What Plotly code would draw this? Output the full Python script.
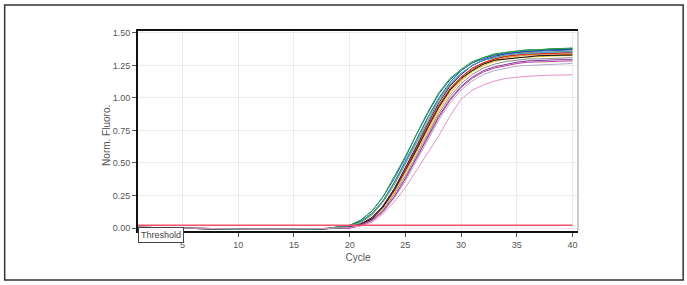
import plotly.graph_objects as go

cycles = list(range(1, 41))

# baseline portions (cycles 1-18)
base_a = [0.004, 0.002, 0.0, -0.002, -0.004, -0.006, -0.007, -0.008, -0.009, -0.010, -0.011, -0.011, -0.012, -0.012, -0.011, -0.010, -0.008, -0.005]
base_b = [0.006, 0.004, 0.002, 0.0, -0.002, -0.004, -0.005, -0.006, -0.007, -0.008, -0.009, -0.009, -0.009, -0.009, -0.008, -0.007, -0.005, -0.003]

# amplification portions (cycles 19-40)
rise_green    = [0.01, 0.02, 0.06, 0.13, 0.24, 0.39, 0.55, 0.72, 0.89, 1.04, 1.15, 1.22, 1.28, 1.31, 1.34, 1.35, 1.36, 1.37, 1.37, 1.38, 1.38, 1.385]
rise_teal     = [0.00, 0.02, 0.05, 0.11, 0.21, 0.35, 0.51, 0.68, 0.85, 1.00, 1.12, 1.21, 1.27, 1.31, 1.33, 1.35, 1.36, 1.37, 1.37, 1.375, 1.38, 1.38]
rise_blue     = [0.01, 0.02, 0.06, 0.13, 0.24, 0.38, 0.54, 0.72, 0.88, 1.03, 1.14, 1.21, 1.27, 1.30, 1.33, 1.34, 1.35, 1.36, 1.36, 1.365, 1.37, 1.37]
rise_navy     = [0.00, 0.01, 0.03, 0.08, 0.17, 0.30, 0.46, 0.63, 0.80, 0.96, 1.09, 1.18, 1.25, 1.29, 1.32, 1.34, 1.35, 1.36, 1.365, 1.37, 1.372, 1.375]
rise_olive    = [0.00, 0.01, 0.04, 0.10, 0.20, 0.33, 0.49, 0.66, 0.82, 0.98, 1.10, 1.18, 1.25, 1.29, 1.31, 1.33, 1.34, 1.35, 1.35, 1.355, 1.36, 1.36]
rise_red      = [0.00, 0.01, 0.03, 0.08, 0.17, 0.30, 0.45, 0.62, 0.78, 0.94, 1.07, 1.16, 1.23, 1.27, 1.30, 1.32, 1.33, 1.34, 1.34, 1.345, 1.35, 1.35]
rise_orange   = [0.00, 0.01, 0.03, 0.07, 0.16, 0.28, 0.43, 0.60, 0.76, 0.92, 1.05, 1.14, 1.21, 1.26, 1.29, 1.31, 1.32, 1.33, 1.33, 1.333, 1.335, 1.335]
rise_yellow   = [0.00, 0.01, 0.03, 0.07, 0.15, 0.27, 0.42, 0.58, 0.74, 0.90, 1.03, 1.13, 1.20, 1.25, 1.28, 1.30, 1.31, 1.315, 1.32, 1.32, 1.325, 1.325]
rise_brown    = [0.00, 0.01, 0.03, 0.08, 0.17, 0.30, 0.45, 0.61, 0.78, 0.94, 1.07, 1.16, 1.22, 1.27, 1.30, 1.32, 1.33, 1.335, 1.34, 1.34, 1.345, 1.345]
rise_grey     = [0.00, 0.01, 0.02, 0.06, 0.14, 0.26, 0.40, 0.56, 0.72, 0.88, 1.01, 1.11, 1.18, 1.23, 1.26, 1.28, 1.29, 1.30, 1.30, 1.305, 1.31, 1.31]
rise_purple   = [0.00, 0.00, 0.02, 0.06, 0.13, 0.24, 0.38, 0.54, 0.70, 0.86, 0.99, 1.09, 1.16, 1.21, 1.24, 1.26, 1.275, 1.285, 1.29, 1.29, 1.295, 1.295]
rise_lavender = [0.00, 0.00, 0.02, 0.05, 0.12, 0.23, 0.36, 0.52, 0.68, 0.83, 0.96, 1.06, 1.13, 1.18, 1.21, 1.23, 1.245, 1.25, 1.255, 1.26, 1.263, 1.265]
rise_black    = [0.00, 0.01, 0.03, 0.07, 0.16, 0.29, 0.44, 0.60, 0.77, 0.93, 1.06, 1.15, 1.21, 1.26, 1.29, 1.30, 1.31, 1.32, 1.325, 1.327, 1.33, 1.33]
rise_ltblue   = [0.00, 0.02, 0.05, 0.11, 0.21, 0.35, 0.50, 0.67, 0.84, 0.99, 1.11, 1.19, 1.25, 1.29, 1.31, 1.33, 1.34, 1.345, 1.35, 1.35, 1.355, 1.355]
rise_magenta  = [0.00, 0.00, 0.02, 0.06, 0.13, 0.24, 0.38, 0.54, 0.70, 0.85, 0.98, 1.08, 1.15, 1.20, 1.23, 1.25, 1.265, 1.275, 1.28, 1.28, 1.283, 1.285]
rise_pink     = [0.00, 0.005, 0.015, 0.045, 0.11, 0.20, 0.31, 0.44, 0.57, 0.71, 0.86, 0.99, 1.06, 1.10, 1.13, 1.15, 1.16, 1.168, 1.172, 1.175, 1.177, 1.178]

threshold_value = 0.022
x_ticks = [5, 10, 15, 20, 25, 30, 35, 40]
y_ticks = [0.0, 0.25, 0.5, 0.75, 1.0, 1.25, 1.5]

series = [
    (base_b, rise_lavender, "#b8a8c8"),
    (base_a, rise_grey, "#8c8c8c"),
    (base_a, rise_purple, "#7b3f9e"),
    (base_b, rise_magenta, "#c03aa0"),
    (base_a, rise_brown, "#8b5a2b"),
    (base_b, rise_yellow, "#e8c020"),
    (base_a, rise_orange, "#f08020"),
    (base_a, rise_black, "#111111"),
    (base_b, rise_red, "#e02020"),
    (base_a, rise_olive, "#7a9a3a"),
    (base_a, rise_navy, "#1a237e"),
    (base_b, rise_ltblue, "#4aa0d8"),
    (base_a, rise_blue, "#2050c0"),
    (base_b, rise_teal, "#138080"),
    (base_a, rise_green, "#2a9a3a"),
    (base_b, rise_pink, "#e890c8"),
]

fig = go.Figure()
for base, rise, color in series:
    fig.add_trace(go.Scatter(x=cycles, y=base + rise, mode="lines",
                             line=dict(color=color, width=1), showlegend=False,
                             hoverinfo="skip"))

fig.add_trace(go.Scatter(x=[cycles[0], cycles[-1]], y=[threshold_value, threshold_value],
                         mode="lines", line=dict(color="#f5506a", width=1.5),
                         showlegend=False, hoverinfo="skip"))

font_family = "Liberation Sans Narrow, Arial, Liberation Sans, sans-serif"

fig.update_layout(
    width=687, height=285,
    margin=dict(l=138, r=109, t=31, b=54),
    paper_bgcolor="white", plot_bgcolor="white",
    font=dict(family=font_family, size=9, color="#555555"),
    xaxis=dict(range=[1, 40.5], tickvals=x_ticks, ticks="outside", ticklen=4,
               tickcolor="#555555", showline=True, linecolor="#111111", linewidth=2,
               mirror=True, showgrid=True, gridcolor="#ebebeb", gridwidth=1,
               zeroline=False,
               title=dict(text="Cycle", standoff=5, font=dict(size=10, color="#555555"))),
    yaxis=dict(range=[-0.023, 1.515], tickvals=y_ticks, tickformat=".2f",
               ticks="outside", ticklen=4, tickcolor="#555555",
               showline=True, linecolor="#111111", linewidth=2,
               showgrid=True, gridcolor="#ebebeb", gridwidth=1, zeroline=False),
    shapes=[
        dict(type="line", xref="paper", yref="paper", x0=1, x1=1, y0=0, y1=1,
             line=dict(color="#bbbbbb", width=1.5)),
        dict(type="rect", xref="paper", yref="paper", x0=-0.303, x1=1.239,
             y0=-0.245, y1=1.13, line=dict(color="#333333", width=1.5)),
    ],
    annotations=[
        dict(text="Norm. Fluoro.", xref="paper", yref="paper", x=-0.073, y=0.48,
             xanchor="center", yanchor="middle", textangle=-90, showarrow=False,
             font=dict(size=10, color="#555555")),
        dict(text="Threshold", xref="paper", yref="paper", x=0, y=0.02,
             xanchor="left", yanchor="top", showarrow=False,
             bordercolor="#444444", borderwidth=1, borderpad=2, bgcolor="white",
             font=dict(size=9, color="#444444")),
    ],
)

fig.write_html("out.html")
